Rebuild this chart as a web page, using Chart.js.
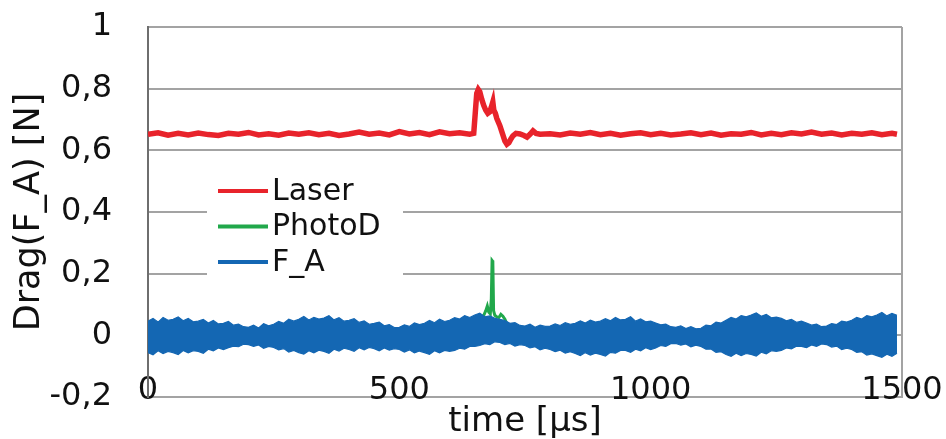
<!DOCTYPE html>
<html>
<head>
<meta charset="utf-8">
<script src="https://cdn.jsdelivr.net/npm/chart.js@4.4.1/dist/chart.umd.min.js"></script>
<style>
  html, body { margin: 0; padding: 0; background: #fff; }
  #wrap { width: 946px; height: 439px; }
</style>
</head>
<body>
<div id="wrap"><canvas id="chart" width="946" height="439"></canvas></div>
<script>
// y axis ticks and x axis ticks
const yTicks = [-0.2, 0, 0.2, 0.4, 0.6, 0.8, 1];
const xTicks = [0, 500, 1000, 1500];

// Laser (red)
const laserTime = [
  0, 20, 40, 60, 80, 100, 120, 140, 160, 180, 200,
  220, 240, 260, 280, 300, 320, 340, 360, 380, 400, 420,
  440, 460, 480, 500, 520, 540, 560, 580, 600, 620, 640,
  648, 651, 654, 657, 660, 664, 668, 672, 676, 680, 683, 686, 688, 691, 694,
  700, 705, 710, 714, 718, 722, 726, 732, 740, 748, 754, 760, 766, 772, 780,
  800, 820, 840, 860, 880, 900, 920, 940, 960, 980, 1000,
  1020, 1040, 1060, 1080, 1100, 1120, 1140, 1160, 1180, 1200, 1220,
  1240, 1260, 1280, 1300, 1320, 1340, 1360, 1380, 1400, 1420, 1440,
  1460, 1480, 1490
];
const laserDrag = [
  0.652, 0.657, 0.649, 0.655, 0.650, 0.656, 0.651, 0.648, 0.655, 0.652, 0.658,
  0.650, 0.654, 0.649, 0.656, 0.652, 0.657, 0.651, 0.655, 0.648, 0.653, 0.659,
  0.652, 0.656, 0.650, 0.661, 0.653, 0.658, 0.651, 0.660, 0.654, 0.657, 0.652,
  0.655, 0.72, 0.785, 0.797, 0.79, 0.765, 0.745, 0.73, 0.72, 0.725, 0.74, 0.757, 0.73, 0.72, 0.703,
  0.68, 0.655, 0.63, 0.62, 0.625, 0.637, 0.647, 0.655, 0.653, 0.648, 0.643, 0.652, 0.663, 0.655, 0.652,
  0.654, 0.650, 0.656, 0.652, 0.658, 0.651, 0.655, 0.649, 0.654, 0.657, 0.651,
  0.655, 0.650, 0.653, 0.657, 0.651, 0.656, 0.649, 0.654, 0.652, 0.658, 0.650,
  0.655, 0.651, 0.657, 0.653, 0.659, 0.652, 0.656, 0.650, 0.655, 0.652, 0.657,
  0.651, 0.655, 0.652
];

// PhotoD (green)
const photoTime = [0, 640, 660, 664, 668, 672, 675, 678, 681, 683, 684.5, 686, 687.5, 690, 694, 698, 702, 706, 710, 716, 722, 1490];
const photoDrag = [0, 0, 0.03, 0.06, 0.065, 0.08, 0.095, 0.075, 0.07, 0.12, 0.243, 0.24, 0.08, 0.065, 0.06, 0.058, 0.068, 0.062, 0.052, 0.03, 0, 0];

// F_A (blue): noisy band, upper and lower edge every 10 us from 0 to 1490
const faUpper = [
  0.046, 0.055, 0.043, 0.058, 0.049, 0.052, 0.060, 0.047, 0.055, 0.044,
  0.046, 0.052, 0.040, 0.048, 0.037, 0.039, 0.045, 0.033, 0.036, 0.028,
  0.026, 0.033, 0.024, 0.038, 0.031, 0.036, 0.045, 0.039, 0.052, 0.046,
  0.052, 0.061, 0.050, 0.058, 0.053, 0.056, 0.064, 0.050, 0.057, 0.046,
  0.049, 0.054, 0.042, 0.047, 0.036, 0.039, 0.043, 0.031, 0.035, 0.025,
  0.026, 0.034, 0.029, 0.040, 0.035, 0.039, 0.048, 0.041, 0.052, 0.045,
  0.049, 0.057, 0.053, 0.064, 0.058, 0.066, 0.072, 0.060, 0.063, 0.055,
  0.052, 0.048, 0.039, 0.041, 0.032, 0.030, 0.036, 0.026, 0.033, 0.029,
  0.030, 0.037, 0.032, 0.041, 0.036, 0.039, 0.047, 0.040, 0.049, 0.043,
  0.046, 0.054, 0.047, 0.058, 0.050, 0.052, 0.060, 0.046, 0.053, 0.044,
  0.046, 0.040, 0.034, 0.036, 0.028, 0.026, 0.031, 0.022, 0.028, 0.021,
  0.023, 0.033, 0.031, 0.043, 0.040, 0.049, 0.058, 0.053, 0.064, 0.060,
  0.066, 0.073, 0.062, 0.068, 0.057, 0.059, 0.055, 0.047, 0.052, 0.042,
  0.046, 0.040, 0.033, 0.036, 0.028, 0.030, 0.038, 0.035, 0.046, 0.043,
  0.049, 0.058, 0.053, 0.064, 0.060, 0.066, 0.074, 0.063, 0.071, 0.065
];
const faLower = [
  -0.056, -0.063, -0.050, -0.059, -0.052, -0.056, -0.062, -0.049, -0.057, -0.050,
  -0.052, -0.058, -0.045, -0.050, -0.041, -0.046, -0.040, -0.035, -0.037, -0.029,
  -0.030, -0.036, -0.031, -0.042, -0.036, -0.039, -0.047, -0.043, -0.054, -0.049,
  -0.056, -0.061, -0.050, -0.057, -0.048, -0.052, -0.058, -0.045, -0.051, -0.042,
  -0.046, -0.052, -0.040, -0.047, -0.039, -0.043, -0.050, -0.041, -0.048, -0.043,
  -0.046, -0.054, -0.047, -0.057, -0.051, -0.056, -0.062, -0.050, -0.057, -0.049,
  -0.052, -0.049, -0.042, -0.045, -0.036, -0.036, -0.033, -0.027, -0.030, -0.021,
  -0.023, -0.030, -0.026, -0.035, -0.030, -0.033, -0.041, -0.037, -0.047, -0.042,
  -0.046, -0.053, -0.048, -0.058, -0.053, -0.059, -0.066, -0.056, -0.064, -0.058,
  -0.062, -0.067, -0.055, -0.058, -0.049, -0.049, -0.055, -0.045, -0.050, -0.040,
  -0.046, -0.041, -0.033, -0.036, -0.027, -0.026, -0.032, -0.028, -0.037, -0.032,
  -0.036, -0.045, -0.044, -0.055, -0.053, -0.062, -0.068, -0.058, -0.066, -0.059,
  -0.062, -0.067, -0.055, -0.060, -0.050, -0.052, -0.049, -0.041, -0.044, -0.035,
  -0.036, -0.040, -0.031, -0.036, -0.028, -0.030, -0.038, -0.035, -0.046, -0.042,
  -0.046, -0.055, -0.053, -0.064, -0.060, -0.066, -0.071, -0.061, -0.068, -0.058
];
const faTime = faUpper.map((_, i) => i * 10);

const pts = (xs, ys) => xs.map((x, i) => ({ x, y: ys[i] }));

const RED = '#e8232b', GREEN = '#21a84b', BLUE = '#1467b3';
const GRID = '#a3a3a3';

// legend drawn inside the plot on a white box
const insideLegend = {
  id: 'insideLegend',
  afterDatasetsDraw(chart) {
    const { ctx, chartArea } = chart;
    const x0 = chartArea.left, y0 = chartArea.top;
    ctx.save();
    ctx.fillStyle = '#fff';
    ctx.fillRect(x0 + 59, y0 + 133, 196, 133);
    ctx.font = '30px "DejaVu Sans"';
    ctx.textBaseline = 'middle';
    chart.data.datasets.filter(d => d.label).forEach((d, i) => {
      const y = y0 + 164 + i * 35.5;
      ctx.strokeStyle = d.borderColor;
      ctx.lineWidth = 4;
      ctx.beginPath();
      ctx.moveTo(x0 + 70, y);
      ctx.lineTo(x0 + 120, y);
      ctx.stroke();
      ctx.fillStyle = '#111';
      ctx.fillText(d.label, x0 + 124, y + 1);
    });
    ctx.restore();
  }
};

Chart.defaults.font.family = '"DejaVu Sans"';
Chart.defaults.color = '#111';

new Chart(document.getElementById('chart'), {
  type: 'line',
  data: {
    datasets: [
      { label: 'Laser', data: pts(laserTime, laserDrag), borderColor: RED, borderWidth: 5.5, order: 0 },
      { label: 'PhotoD', data: pts(photoTime, photoDrag), borderColor: GREEN, borderWidth: 3, order: 3 },
      { label: 'F_A', data: pts(faTime, faUpper), borderColor: BLUE, backgroundColor: BLUE, borderWidth: 1.2, fill: '+1', order: 1 },
      { data: pts(faTime, faLower), borderColor: BLUE, borderWidth: 1.2, order: 1 }
    ]
  },
  options: {
    responsive: false,
    animation: false,
    events: [],
    layout: { padding: { top: 27, right: 44, bottom: 0, left: 0 } },
    elements: { point: { radius: 0 }, line: { tension: 0 } },
    plugins: { legend: { display: false }, tooltip: { enabled: false } },
    scales: {
      x: {
        type: 'linear',
        min: 0, max: 1500,
        afterBuildTicks: s => { s.ticks = xTicks.map(v => ({ value: v })); },
        afterFit: s => { s.height = 42; s.paddingLeft = 0; s.paddingRight = 0; },
        ticks: { mirror: true, padding: -13, font: { size: 32 }, maxRotation: 0, callback: v => String(v) },
        grid: { drawTicks: false, lineWidth: 2, color: c => c.tick && c.tick.value === 1500 ? GRID : 'rgba(0,0,0,0)' },
        border: { display: true, color: GRID, width: 2 },
        title: { display: true, text: 'time [µs]', font: { size: 34, lineHeight: 1 }, padding: { top: 5, bottom: 0 } }
      },
      y: {
        min: -0.2, max: 1,
        afterBuildTicks: s => { s.ticks = yTicks.map(v => ({ value: v })); },
        afterFit: s => { s.width = 148; s.paddingTop = 0; s.paddingBottom = 0; },
        ticks: { padding: 36, font: { size: 32 }, callback: v => String(Math.round(v * 10) / 10).replace('.', ',') },
        grid: { drawTicks: false, lineWidth: 2, color: GRID },
        border: { display: true, color: '#6e6e6e', width: 2 },
        title: { display: true, text: 'Drag(F_A) [N]', font: { size: 35, lineHeight: 1 }, padding: { top: 12, bottom: 0 } }
      }
    }
  },
  plugins: [insideLegend]
});
</script>
</body>
</html>
